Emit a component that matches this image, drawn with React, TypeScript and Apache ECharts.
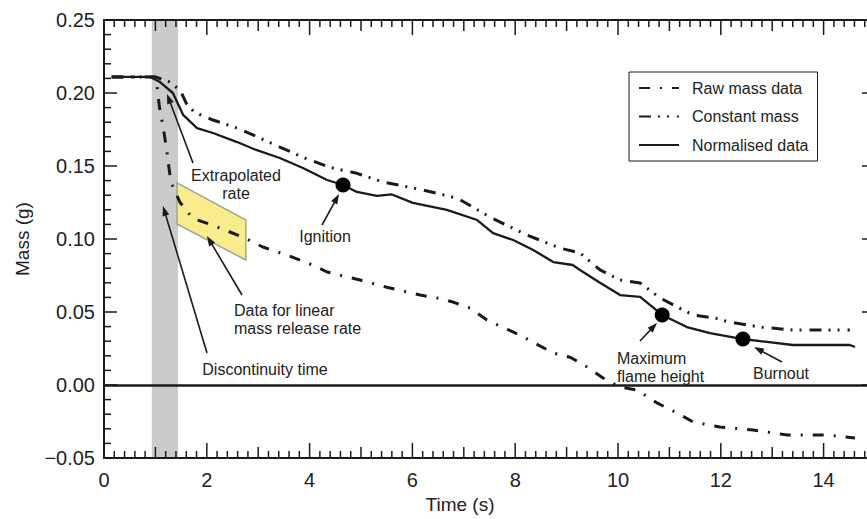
import React, { useEffect, useRef } from 'react';
import * as echarts from 'echarts';

// ---- data ----
const normT = [0.15, 0.9, 1.09, 1.34, 1.54, 1.81, 2.12, 2.59, 2.96, 3.42, 3.87, 4.34, 4.65, 4.92, 5.31, 5.6, 6.01, 6.67, 7.26, 7.57, 7.96, 8.35, 8.74, 9.12, 9.26, 9.65, 10.04, 10.43, 10.86, 11.34, 11.79, 12.43, 12.9, 13.4, 14.07, 14.51, 14.61];
const normM = [0.211, 0.211, 0.2075, 0.2, 0.185, 0.176, 0.1726, 0.1664, 0.161, 0.1555, 0.1486, 0.1404, 0.137, 0.1322, 0.1295, 0.1305, 0.1247, 0.1199, 0.113, 0.104, 0.0993, 0.0925, 0.0842, 0.0822, 0.0788, 0.07, 0.0616, 0.0603, 0.048, 0.0397, 0.0356, 0.0315, 0.0295, 0.0274, 0.0274, 0.0274, 0.026];

const constT = [0.15, 1.0, 1.25, 1.48, 1.6, 1.75, 2.12, 2.59, 2.98, 3.42, 3.87, 4.4, 4.92, 5.43, 6.15, 6.87, 7.51, 8.23, 8.87, 9.26, 9.65, 10.04, 10.43, 10.82, 11.15, 11.46, 11.93, 12.12, 12.76, 13.4, 14.51];
const constM = [0.211, 0.211, 0.208, 0.202, 0.193, 0.187, 0.1815, 0.176, 0.17, 0.163, 0.156, 0.149, 0.145, 0.139, 0.134, 0.128, 0.115, 0.1027, 0.0938, 0.0904, 0.0788, 0.0719, 0.0699, 0.0596, 0.0534, 0.048, 0.0455, 0.0435, 0.0397, 0.0377, 0.0377];

const rawT = [0.15, 1.0, 1.03, 1.08, 1.15, 1.22, 1.3, 1.48, 1.73, 2.1, 2.45, 2.74, 3.09, 3.56, 4.07, 4.34, 4.98, 5.5, 6.15, 6.48, 6.79, 7.12, 7.45, 8.09, 8.74, 9.07, 9.4, 9.71, 10.04, 10.37, 10.76, 11.15, 11.46, 11.98, 12.63, 13.29, 14.07, 14.61];
const rawM = [0.211, 0.211, 0.205, 0.19, 0.177, 0.161, 0.139, 0.125, 0.114, 0.1096, 0.1048, 0.1007, 0.0945, 0.089, 0.082, 0.0774, 0.0719, 0.067, 0.0616, 0.0596, 0.0568, 0.0527, 0.0445, 0.0342, 0.0219, 0.019, 0.0123, 0.0048, -0.0014, -0.0034, -0.0123, -0.0192, -0.0253, -0.0288, -0.0308, -0.0342, -0.0342, -0.0363];

const eventT = [4.65, 10.86, 12.43];
const eventM = [0.137, 0.048, 0.0315];

const bandT = [0.93, 1.44];
const polyT = [1.42, 2.76, 2.76, 1.42];
const polyM = [0.1384, 0.113, 0.0856, 0.1103];

const seriesNames = ['Raw mass data', 'Constant mass', 'Normalised data'];

// axis ranges and tick positions (ticks on all four sides, pointing inward)
const X_MIN = 0, X_MAX = 15, Y_MIN = -0.05, Y_MAX = 0.25;
const xTickVals = Array.from({ length: 76 }, (_, i) => Math.round(i * 2) / 10);   // every 0.2 s
const xTickLen = xTickVals.map((_, i) => (i % 10 === 0 ? 15 : i % 5 === 0 ? 11 : 7));
const yTickVals = Array.from({ length: 31 }, (_, i) => (i - 5) / 100);            // every 0.01 g
const yTickLen = yTickVals.map((_, i) => (i % 5 === 0 ? 13 : 7));

const FONT = '"Liberation Sans", Arial, Helvetica, sans-serif';
const INK = '#1a1a1a';

const pairs = (t: number[], m: number[]) => t.map((v, i) => [v, m[i]]);

function seg(x1: number, y1: number, x2: number, y2: number, w: number, z: number): any {
  return { type: 'line', z, silent: true, shape: { x1, y1, x2, y2 }, style: { stroke: INK, lineWidth: w } };
}

function bar(x: number, y: number, width: number, height: number): any {
  return { type: 'rect', z: 40, silent: true, shape: { x, y, width, height }, style: { fill: INK } };
}

function arrow(x1: number, y1: number, x2: number, y2: number): any[] {
  const dx = x2 - x1, dy = y2 - y1;
  const L = Math.hypot(dx, dy);
  const ux = dx / L, uy = dy / L;
  const hl = 10, hw = 3.5;
  const bx = x2 - ux * hl, by = y2 - uy * hl;
  return [
    seg(x1, y1, bx + ux * 2, by + uy * 2, 1.6, 50),
    { type: 'polygon', z: 50, shape: { points: [[x2, y2], [bx - uy * hw, by + ux * hw], [bx + uy * hw, by - ux * hw]] }, style: { fill: INK } },
  ];
}

function label(text: string, x: number, y: number, align: string = 'center', size: number = 16): any {
  return {
    type: 'text', z: 50,
    style: { text, x, y, font: `${size}px ${FONT}`, fill: '#222', textAlign: align, textVerticalAlign: 'middle' },
  };
}

const yFmt = (v: number) => {
  if (Math.abs(v) < 1e-9) return '0.00';
  return v < 0 ? '\u2212' + Math.abs(v).toFixed(2) : v.toFixed(2);
};

export default function App() {
  const ref = useRef<HTMLDivElement>(null);
  useEffect(() => {
    if (!ref.current) return;
    const chart = echarts.init(ref.current, undefined, { renderer: 'svg' });

    const xAxisDef = (position: string): any => ({
      type: 'value', min: X_MIN, max: X_MAX, interval: 1, position,
      axisLine: { show: true, onZero: false, lineStyle: { color: INK, width: 2 } },
      axisTick: { show: false },
      minorTick: { show: false },
      axisLabel: {
        show: position === 'bottom',
        formatter: (v: number) => (Math.round(v) % 2 === 0 && v < 15 ? String(v) : ''),
        fontSize: 20, color: '#222', fontFamily: FONT, margin: 12,
      },
      splitLine: { show: false },
    });
    const yAxisDef = (position: string, main: boolean): any => ({
      type: 'value', min: Y_MIN, max: Y_MAX, interval: 0.05, position,
      axisLine: { show: true, onZero: false, lineStyle: { color: INK, width: 2 } },
      axisTick: { show: false },
      minorTick: { show: false },
      axisLabel: { show: main, formatter: yFmt, fontSize: 20, color: '#222', fontFamily: FONT, margin: 9 },
      splitLine: { show: false },
    });

    chart.setOption({
      animation: false,
      backgroundColor: '#ffffff',
      textStyle: { fontFamily: FONT },
      grid: { left: 104, top: 20, width: 771, height: 438, outerBoundsMode: 'none' },
      legend: {
        data: seriesNames,
        orient: 'vertical',
        left: 629, top: 72,
        itemWidth: 40, itemHeight: 14, itemGap: 12.5,
        padding: [8, 9, 8, 9],
        borderColor: INK, borderWidth: 1,
        backgroundColor: '#fff',
        itemStyle: { opacity: 0, color: 'rgba(0,0,0,0)', borderWidth: 0 },
        textStyle: { fontSize: 16, color: '#222', fontFamily: FONT, padding: [0, 0, 0, 8] },
      },
      xAxis: [xAxisDef('bottom'), xAxisDef('top')],
      yAxis: [
        {
          ...yAxisDef('left', true),
          name: 'Mass (g)', nameLocation: 'middle', nameGap: 72, nameRotate: 90,
          nameTextStyle: { fontSize: 19, color: '#222', fontFamily: FONT },
        },
        yAxisDef('right', false),
      ],
      series: [
        {
          type: 'custom', name: 'linear window', z: 1, silent: true,
          xAxisIndex: 0, yAxisIndex: 0,
          data: [[polyT[0], polyM[0]]],
          renderItem: (_p: any, api: any) => ({
            type: 'polygon',
            shape: { points: polyT.map((t, i) => api.coord([t, polyM[i]])) },
            style: { fill: '#f8ec8c', stroke: '#a4a496', lineWidth: 1.5 },
          }),
        },
        {
          type: 'line', name: seriesNames[0], z: 3, xAxisIndex: 0, yAxisIndex: 0,
          data: pairs(rawT, rawM), symbol: 'none', showSymbol: false,
          lineStyle: { color: INK, width: 3, type: [11, 10, 2, 10] },
          itemStyle: { color: INK },
          markArea: {
            silent: true, z: 0,
            itemStyle: { color: '#c9cbcc' },
            data: [[{ xAxis: bandT[0] }, { xAxis: bandT[1] }]],
          },
        },
        {
          type: 'line', name: seriesNames[1], z: 3, xAxisIndex: 0, yAxisIndex: 0,
          data: pairs(constT, constM), symbol: 'none', showSymbol: false,
          lineStyle: { color: INK, width: 3, type: [12, 7, 2, 7, 2, 8] },
          itemStyle: { color: INK },
        },
        {
          type: 'line', name: seriesNames[2], z: 4, xAxisIndex: 0, yAxisIndex: 0,
          data: pairs(normT, normM), symbol: 'none', showSymbol: false,
          lineStyle: { color: INK, width: 2.3, type: 'solid' },
          itemStyle: { color: INK },
          markLine: {
            silent: true, symbol: ['none', 'none'],
            label: { show: false },
            lineStyle: { color: INK, width: 2.6, type: 'solid' },
            data: [{ yAxis: 0 }],
          },
        },
        {
          type: 'scatter', name: 'events', z: 5, xAxisIndex: 0, yAxisIndex: 0,
          data: pairs(eventT, eventM), symbol: 'circle', symbolSize: 15,
          itemStyle: { color: '#000', opacity: 1 },
        },
      ],
    });

    // ticks placed through the chart's own scales, drawn as thin filled rects
    const toPx = (x: number, y: number): number[] => {
      const p = chart.convertToPixel({ gridIndex: 0 }, [x, y]) as any;
      if (p && isFinite(p[0]) && isFinite(p[1])) return p;
      return [104 + ((x - X_MIN) / (X_MAX - X_MIN)) * 771, 20 + ((Y_MAX - y) / (Y_MAX - Y_MIN)) * 438];
    };
    const W = 1.5;
    const ticks: any[] = [];
    xTickVals.forEach((v, i) => {
      const len = xTickLen[i];
      const b = toPx(v, Y_MIN);
      const t = toPx(v, Y_MAX);
      ticks.push(bar(b[0] - W / 2, b[1] - len, W, len));
      ticks.push(bar(t[0] - W / 2, t[1], W, len));
    });
    yTickVals.forEach((v, i) => {
      const len = yTickLen[i];
      const l = toPx(X_MIN, v);
      const r = toPx(X_MAX, v);
      ticks.push(bar(l[0], l[1] - W / 2, len, W));
      ticks.push(bar(r[0] - len, r[1] - W / 2, len, W));
    });

    const annotations: any[] = [
      ...arrow(193, 163, 167, 94),
      label('Extrapolated', 236, 175),
      label('rate', 236, 193),
      ...arrow(207, 353, 163, 206),
      label('Discontinuity time', 265, 369),
      ...arrow(242, 295, 207, 236),
      label('Data for linear', 234, 310, 'left'),
      label('mass release rate', 234, 328, 'left'),
      ...arrow(322, 225, 339, 194),
      label('Ignition', 325, 236),
      ...arrow(640, 341, 657, 323),
      label('Maximum', 617, 358, 'left'),
      label('flame height', 617, 376, 'left'),
      ...arrow(782, 362, 754, 347),
      label('Burnout', 753, 373, 'left'),
      label('Time (s)', 460, 504, 'center', 19),
    ];

    chart.setOption({ graphic: [...ticks, ...annotations] });
    return () => chart.dispose();
  }, []);
  return <div ref={ref} style={{ position: 'absolute', left: 0, top: 0, width: 867, height: 519 }} />;
}
